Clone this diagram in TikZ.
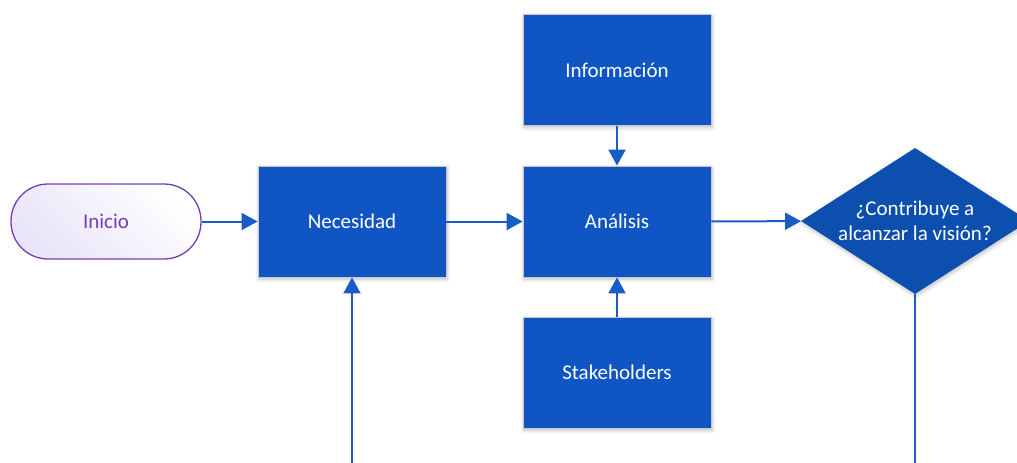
\documentclass[tikz,border=0pt]{standalone}
\usepackage{fontspec}
\setmainfont{Carlito}
\usetikzlibrary{arrows.meta,shapes.geometric,shadows.blur}
\definecolor{boxblue}{HTML}{0F55C3}
\definecolor{diablue}{HTML}{0D4FAE}
\definecolor{linkblue}{HTML}{1A5CC6}
\definecolor{startpurple}{HTML}{7140B8}
\definecolor{startfill}{HTML}{E9E4F7}
\tikzset{
  procbox/.style={rectangle, fill=boxblue, draw=gray!45, line width=0.8pt,
    minimum width=188pt, minimum height=111pt, inner sep=0pt,
    text=white, font=\fontsize{21}{25}\selectfont,
    blur shadow={shadow xshift=1pt, shadow yshift=-2pt, shadow blur steps=6, shadow opacity=25, shadow blur radius=4pt}},
  decisionbox/.style={diamond, aspect=1.56, fill=diablue, draw=none,
    minimum width=228pt, minimum height=146pt, inner sep=0pt,
    text=white, align=center, font=\fontsize{21}{25}\selectfont,
    blur shadow={shadow xshift=1pt, shadow yshift=-2pt, shadow blur steps=6, shadow opacity=25, shadow blur radius=4pt}},
  startbox/.style={rectangle, rounded corners=37pt, draw=startpurple, line width=1.3pt,
    left color=startfill, right color=white, shading angle=135,
    minimum width=190pt, minimum height=75pt, inner sep=0pt,
    text=startpurple, font=\fontsize{21}{25}\selectfont},
  link/.style={draw=linkblue, line width=2pt, -{Triangle[length=16pt,width=17pt]}},
  plainlink/.style={draw=linkblue, line width=2pt}
}
\begin{document}
\begin{tikzpicture}[x=1pt,y=-1pt]
\useasboundingbox (0,0) rectangle (1017,463);
\node[startbox] (inicio) at (106,221.5) {Inicio};
\node[procbox] (necesidad) at (352,221.5) {Necesidad};
\node[procbox] (analisis) at (617,221.5) {Análisis};
\node[procbox] (informacion) at (617,70) {Información};
\node[procbox] (stakeholders) at (617,372.5) {Stakeholders};
\node[decisionbox] (decision) at (915,221) {¿Contribuye a\\alcanzar la visión?};
\coordinate (loopin) at (352,470);
\coordinate (loopout) at (915,470);
\draw[link] (inicio) -- (necesidad);
\draw[link] (necesidad) -- (analisis);
\draw[link] (analisis) -- (decision);
\draw[link] (informacion) -- (analisis);
\draw[link] (stakeholders) -- (analisis);
\draw[link] (loopin) -- (necesidad);
\draw[plainlink] (decision.south) -- (loopout);
\end{tikzpicture}
\end{document}
